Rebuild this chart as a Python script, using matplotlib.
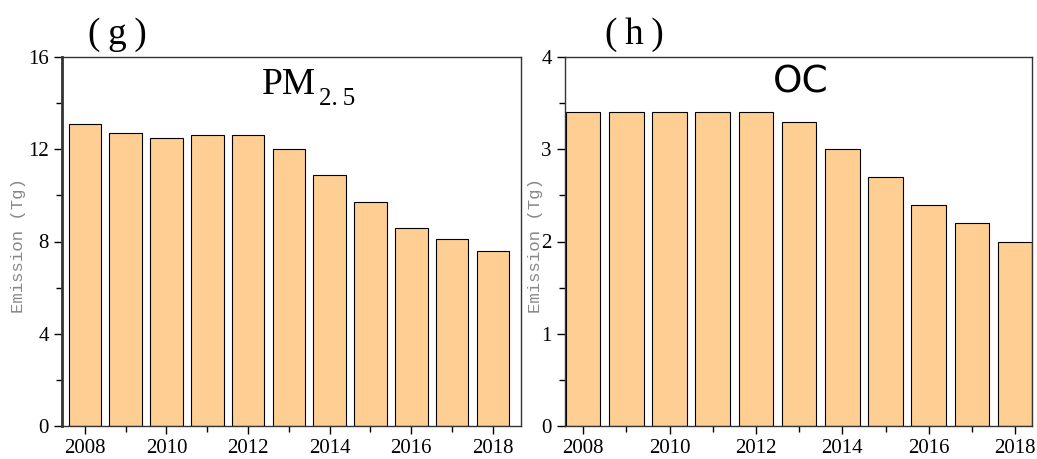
import matplotlib.pyplot as plt
from matplotlib.ticker import MultipleLocator

years = [2008, 2009, 2010, 2011, 2012, 2013, 2014, 2015, 2016, 2017, 2018]
pm25 = [13.1, 12.7, 12.5, 12.6, 12.6, 12.0, 10.9, 9.7, 8.6, 8.1, 7.6]
oc = [3.4, 3.4, 3.4, 3.4, 3.4, 3.3, 3.0, 2.7, 2.4, 2.2, 2.0]

BAR = "#FFCE93"
SERIF = "Liberation Serif"

fig = plt.figure(figsize=(10.37, 4.59), dpi=100)
ax1 = fig.add_axes([62 / 1037, 33 / 459, 459 / 1037, 369 / 459])
ax2 = fig.add_axes([565 / 1037, 33 / 459, 467 / 1037, 369 / 459])


def style(ax, ymax, ystep, xlim, labx):
    ax.set_xlim(*xlim)
    ax.set_ylim(0, ymax)
    ax.xaxis.set_major_locator(MultipleLocator(2))
    ax.xaxis.set_minor_locator(MultipleLocator(1))
    ax.yaxis.set_major_locator(MultipleLocator(ystep))
    ax.yaxis.set_minor_locator(MultipleLocator(ystep / 2))
    ax.tick_params(which="major", direction="out", length=6, width=1, labelsize=15)
    ax.tick_params(which="minor", direction="out", length=4, width=1)
    for lab in ax.get_xticklabels() + ax.get_yticklabels():
        lab.set_fontfamily(SERIF)
    for s in ax.spines.values():
        s.set_linewidth(1.0)
        s.set_color("#333333")
    ax.set_ylabel("Emission (Tg)", fontsize=12.5, color="#888888",
                  family="Liberation Mono")
    ax.yaxis.set_label_coords(labx, 0.49)


ax1.bar(years, pm25, width=0.8, color=BAR, edgecolor="black", linewidth=0.8)
style(ax1, 16, 4, (2007.44, 2018.69), -36 / 459)
ax1.spines["left"].set_linewidth(2.0)
ax1.text(0.553, 0.925, "PM", transform=ax1.transAxes, ha="right", va="center",
         fontsize=27, family=SERIF)
ax1.text(0.56, 0.915, "2.\u20095", transform=ax1.transAxes, ha="left", va="top",
         fontsize=18, family=SERIF)
fig.text(117 / 1037, 1 - 35 / 459, "(\u2009g\u2009)", ha="center", va="center",
         fontsize=27, family=SERIF)

ax2.bar(years, oc, width=0.8, color=BAR, edgecolor="black", linewidth=0.8)
style(ax2, 4, 1, (2007.58, 2018.39), -22 / 467)
ax2.text(0.505, 0.93, "OC", transform=ax2.transAxes, ha="center", va="center",
         fontsize=27, family="DejaVu Sans")
fig.text(634 / 1037, 1 - 35 / 459, "(\u2009h\u2009)", ha="center", va="center",
         fontsize=27, family=SERIF)

fig.savefig("out.png", dpi=100)
